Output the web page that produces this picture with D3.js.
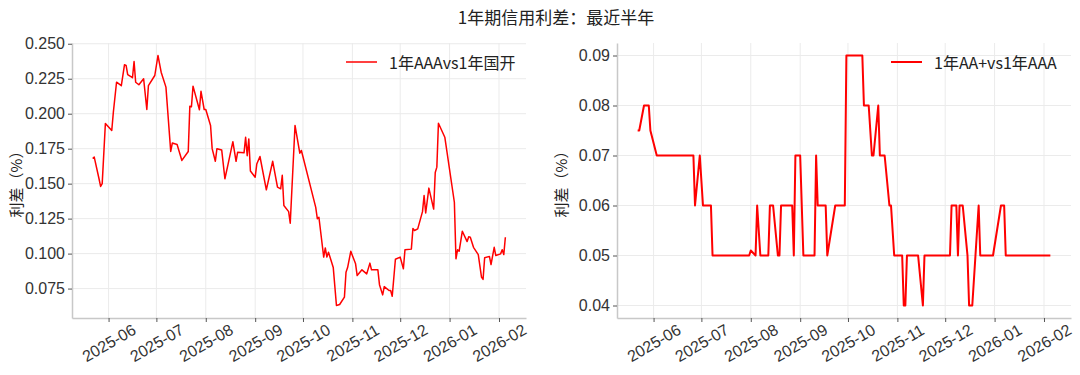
<!DOCTYPE html>
<html>
<head>
<meta charset="utf-8">
<script src="https://cdn.jsdelivr.net/npm/d3@7"></script>
<style>
  body { margin: 0; background: #fff; }
  svg { font-family: "Noto Sans CJK SC", "Noto Sans", sans-serif; }
</style>
</head>
<body>
<svg id="chart" width="1080" height="375"></svg>
<script>
// 1年AAA vs 1年国开 (%)
const dates1 = ["2025-05-22","2025-05-23","2025-05-26","2025-05-27","2025-05-28","2025-05-30","2025-06-03","2025-06-04","2025-06-06","2025-06-09",
  "2025-06-11","2025-06-12","2025-06-13","2025-06-16","2025-06-17","2025-06-18","2025-06-20","2025-06-23","2025-06-25","2025-06-26",
  "2025-06-30","2025-07-02","2025-07-04","2025-07-07","2025-07-10","2025-07-11","2025-07-14","2025-07-17","2025-07-21","2025-07-22",
  "2025-07-23","2025-07-24","2025-07-28","2025-07-29","2025-07-31","2025-08-01","2025-08-04","2025-08-05","2025-08-07","2025-08-08",
  "2025-08-11","2025-08-13","2025-08-15","2025-08-18","2025-08-20","2025-08-21","2025-08-25","2025-08-26","2025-08-27","2025-08-28",
  "2025-08-29","2025-09-01","2025-09-02","2025-09-04","2025-09-08","2025-09-12","2025-09-15","2025-09-17","2025-09-18","2025-09-19",
  "2025-09-22","2025-09-23","2025-09-26","2025-09-29","2025-09-30","2025-10-09","2025-10-10","2025-10-11","2025-10-14","2025-10-15",
  "2025-10-16","2025-10-17","2025-10-20","2025-10-22","2025-10-24","2025-10-27","2025-10-28","2025-10-29","2025-10-31","2025-11-03",
  "2025-11-04","2025-11-07","2025-11-10","2025-11-12","2025-11-13","2025-11-17","2025-11-18","2025-11-20","2025-11-21","2025-11-24",
  "2025-11-25","2025-11-26","2025-11-28","2025-12-01","2025-12-03","2025-12-04","2025-12-08","2025-12-09","2025-12-10","2025-12-12",
  "2025-12-15","2025-12-16","2025-12-17","2025-12-19","2025-12-22","2025-12-23","2025-12-24","2025-12-25","2025-12-29","2026-01-04",
  "2026-01-05","2026-01-06","2026-01-07","2026-01-09","2026-01-12","2026-01-13","2026-01-14","2026-01-16","2026-01-19","2026-01-21",
  "2026-01-22","2026-01-23","2026-01-26","2026-01-27","2026-01-29","2026-01-30","2026-02-02","2026-02-03","2026-02-04","2026-02-05"];
const spread1 = [0.168,0.169,0.1535,0.148,0.150,0.193,0.188,0.201,0.2225,0.220,
  0.235,0.2345,0.228,0.2257,0.2373,0.2225,0.2207,0.225,0.203,0.220,
  0.2273,0.2416,0.2297,0.219,0.173,0.179,0.178,0.1666,0.173,0.2054,
  0.205,0.2197,0.2028,0.216,0.203,0.203,0.1916,0.175,0.166,0.175,
  0.174,0.1535,0.164,0.180,0.166,0.1725,0.172,0.1832,0.170,0.182,
  0.159,0.1546,0.164,0.1694,0.1456,0.166,0.1475,0.1463,0.156,0.1344,
  0.130,0.1217,0.1916,0.1718,0.1737,0.133,0.1249,0.126,0.0975,0.104,
  0.0975,0.101,0.090,0.0629,0.0636,0.0689,0.0867,0.090,0.1016,0.0927,
  0.0843,0.0884,0.0855,0.0932,0.0884,0.0884,0.0778,0.0705,0.0764,0.0736,
  0.0736,0.0695,0.096,0.0975,0.0892,0.1027,0.1032,0.118,0.1165,0.1177,
  0.130,0.1415,0.129,0.1468,0.1318,0.158,0.1618,0.1932,0.1832,0.1367,
  0.0963,0.1027,0.1017,0.116,0.1086,0.112,0.1117,0.1045,0.0993,0.0833,
  0.0816,0.0970,0.098,0.0922,0.1045,0.0986,0.0998,0.1027,0.0993,0.1117];

// 1年AA+ vs 1年AAA (%)
const dates2 = ["2025-05-22","2025-05-23","2025-05-26","2025-05-29","2025-05-30","2025-06-03","2025-06-26","2025-06-27","2025-06-30","2025-07-02",
  "2025-07-07","2025-07-08","2025-07-31","2025-08-01","2025-08-04","2025-08-05","2025-08-07","2025-08-12","2025-08-13","2025-08-15",
  "2025-08-18","2025-08-19","2025-08-20","2025-08-27","2025-08-28","2025-08-29","2025-09-01","2025-09-03","2025-09-10","2025-09-11",
  "2025-09-12","2025-09-17","2025-09-18","2025-09-23","2025-09-29","2025-09-30","2025-10-10","2025-10-11","2025-10-14","2025-10-16",
  "2025-10-17","2025-10-20","2025-10-21","2025-10-24","2025-10-27","2025-10-28","2025-10-30","2025-11-04","2025-11-05","2025-11-06",
  "2025-11-07","2025-11-14","2025-11-17","2025-11-18","2025-12-04","2025-12-05","2025-12-08","2025-12-09","2025-12-10","2025-12-12",
  "2025-12-15","2025-12-16","2025-12-18","2025-12-22","2025-12-23","2025-12-31","2026-01-05","2026-01-07","2026-01-08","2026-02-05"];
const spread2 = [0.075,0.075,0.080,0.080,0.075,0.070,0.070,0.060,0.070,0.060,
  0.060,0.050,0.050,0.051,0.050,0.060,0.050,0.050,0.060,0.060,
  0.050,0.050,0.060,0.060,0.050,0.070,0.070,0.050,0.050,0.070,
  0.060,0.060,0.050,0.060,0.060,0.090,0.090,0.080,0.080,0.070,
  0.070,0.080,0.070,0.070,0.060,0.060,0.050,0.050,0.040,0.040,
  0.050,0.050,0.040,0.050,0.050,0.060,0.060,0.050,0.060,0.060,
  0.050,0.040,0.040,0.060,0.050,0.050,0.060,0.060,0.050,0.050];

const ticks1 = [0.075, 0.100, 0.125, 0.150, 0.175, 0.200, 0.225, 0.250];
const ticks2 = [0.04, 0.05, 0.06, 0.07, 0.08, 0.09];
const names = ["1年AAAvs1年国开", "1年AA+vs1年AAA"];

const parse = d3.timeParse("%Y-%m-%d");
const svg = d3.select("#chart");

svg.append("text")
  .attr("x", 556).attr("y", 16)
  .attr("text-anchor", "middle").attr("dominant-baseline", "central")
  .attr("font-size", 17).attr("fill", "#222")
  .text("1年期信用利差：最近半年");

// matplotlib style 5% padding
function padded(ext) {
  const p = (ext[1] - ext[0]) * 0.05;
  return [ext[0] - p, ext[1] + p];
}

function drawPanel(left, right, dates, values, yTicks, fmt, name, lineW) {
  const top = 43, bottom = 318;
  const pts = dates.map((d, i) => ({ date: parse(d), v: values[i] }));

  const tExt = d3.extent(pts, d => d.date);
  const tPad = (tExt[1] - tExt[0]) * 0.05;
  const x = d3.scaleTime()
    .domain([new Date(+tExt[0] - tPad), new Date(+tExt[1] + tPad)])
    .range([left, right]);
  const y = d3.scaleLinear()
    .domain(padded(d3.extent(values)))
    .range([bottom, top]);

  const g = svg.append("g");
  const months = x.ticks(d3.timeMonth.every(1));

  // grid
  g.append("g").selectAll("line").data(months).enter().append("line")
    .attr("x1", d => x(d)).attr("x2", d => x(d))
    .attr("y1", top).attr("y2", bottom)
    .attr("stroke", "#ebebeb").attr("stroke-width", 1);
  g.append("g").selectAll("line").data(yTicks).enter().append("line")
    .attr("x1", left).attr("x2", right)
    .attr("y1", d => y(d)).attr("y2", d => y(d))
    .attr("stroke", "#ebebeb").attr("stroke-width", 1);

  // axes
  const xAxis = g.append("g")
    .attr("transform", `translate(0,${bottom})`)
    .call(d3.axisBottom(x).tickValues(months).tickSize(4).tickSizeOuter(0).tickFormat(d3.timeFormat("%Y-%m")));
  xAxis.select(".domain").attr("stroke", "#c8c8c8").attr("stroke-width", 1.5);
  xAxis.selectAll(".tick line").attr("stroke", "#555");
  xAxis.selectAll(".tick text")
    .attr("font-size", 16).attr("fill", "#333")
    .attr("text-anchor", "middle").attr("dominant-baseline", "central")
    .attr("x", 0).attr("y", 0).attr("dy", null)
    .attr("transform", "translate(0,25) rotate(-30)");

  const yAxis = g.append("g")
    .attr("transform", `translate(${left},0)`)
    .call(d3.axisLeft(y).tickValues(yTicks).tickSize(4).tickSizeOuter(0).tickFormat(d3.format(fmt)));
  yAxis.select(".domain").attr("stroke", "#c8c8c8").attr("stroke-width", 1.5);
  yAxis.selectAll(".tick line").attr("stroke", "#555");
  yAxis.selectAll(".tick text").attr("font-size", 16).attr("fill", "#333").attr("x", -7);

  g.append("text")
    .attr("transform", `translate(${left - 57},${(top + bottom) / 2}) rotate(-90)`)
    .attr("text-anchor", "middle").attr("dominant-baseline", "central")
    .attr("font-size", 15).attr("fill", "#222")
    .text("利差（%）");

  // series
  g.append("path")
    .datum(pts)
    .attr("d", d3.line().x(d => x(d.date)).y(d => y(d.v)))
    .attr("fill", "none")
    .attr("stroke", "#ff0000")
    .attr("stroke-width", lineW)
    .attr("stroke-linejoin", "round");

  // legend
  const lx = right - 180, ly = 62;
  g.append("line")
    .attr("x1", lx).attr("x2", lx + 31).attr("y1", ly).attr("y2", ly)
    .attr("stroke", "#ff0000").attr("stroke-width", lineW);
  g.append("text")
    .attr("x", lx + 43).attr("y", ly)
    .attr("dominant-baseline", "central")
    .attr("font-size", 16).attr("fill", "#222")
    .text(name);
}

drawPanel(72, 526, dates1, spread1, ticks1, ".3f", names[0], 1.5);
drawPanel(617, 1071, dates2, spread2, ticks2, ".2f", names[1], 2);
</script>
</body>
</html>
